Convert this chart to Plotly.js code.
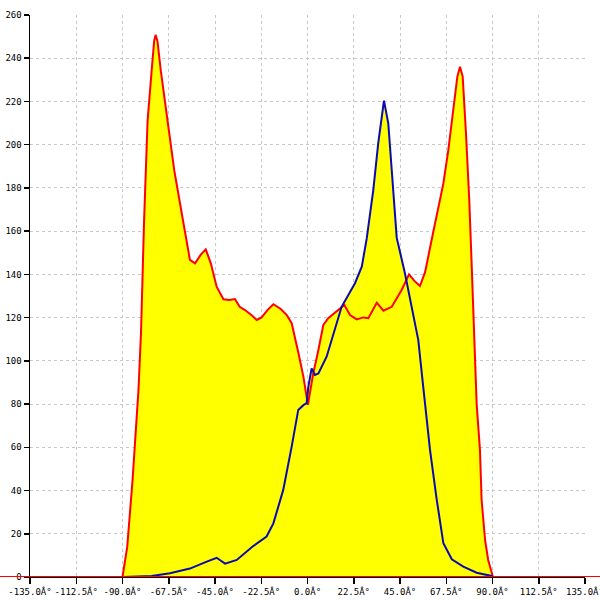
<!DOCTYPE html>
<html>
<head>
<meta charset="utf-8">
<script src="https://cdn.plot.ly/plotly-3.0.1.min.js"></script>
<style>html,body{margin:0;padding:0;background:#fff}#chart{width:600px;height:600px}</style>
</head>
<body>
<div id="chart"></div>
<script>
// Red series (angle, count)
const redX = [-135, -90, -87.7, -85.1, -82.2, -81, -79.5, -77.8, -75.8, -74.6, -73.9, -73, -71.4, -68.2, -64.8, -61.5, -57.2, -54.7, -52, -49.5, -47, -44.2, -40.9, -38, -35.3, -33, -30.4, -27, -24.7, -22.3, -19.5, -16.6, -13, -10.1, -7.7, -4.5, -2.0, 0.2, 2.8, 5.3, 7.7, 10.1, 14.2, 17.9, 20.7, 23.9, 27.1, 29.6, 33.7, 36.9, 41.0, 45.8, 49.4, 52, 54.7, 57.2, 60.4, 63.6, 66.1, 68.5, 70.9, 72.9, 74.2, 75.5, 77.1, 78.7, 79.9, 81.0, 82.3, 83.9, 84.7, 86.4, 87.9, 90.2, 135];
const redY = [0, 0, 13.9, 44.9, 87, 113, 165, 211, 234.5, 248, 250.8, 248, 234.5, 211, 188, 170, 146.7, 145.1, 149, 151.6, 145, 134.3, 128.5, 128.2, 128.6, 125, 123.5, 121, 118.9, 120.1, 123.5, 126.2, 124, 121.2, 117.4, 104, 92.7, 79.6, 94.2, 105, 116.6, 119.7, 122.7, 125.8, 121.2, 119.2, 120.1, 119.7, 126.9, 123.2, 125, 132.8, 140, 137, 134.6, 141, 156, 169.8, 182.1, 197.5, 216, 231.5, 236.1, 231.5, 205.3, 174.4, 143.6, 112.7, 80, 58.8, 35.6, 17.1, 7.9, 0, 0];
// Blue series
const blueX = [-90, -75.8, -66.9, -57.2, -49, -44.2, -40.1, -34.4, -26.4, -19.9, -16.6, -11.8, -7.7, -4.5, -2, -0.4, 0.4, 2.0, 3.6, 5.3, 9.3, 13.4, 16.6, 23.1, 26.4, 28.8, 32.0, 34.4, 37.2, 39.3, 41.0, 42.6, 43.4, 47.4, 50.7, 53.9, 56.3, 58.0, 59.6, 62.9, 66.1, 70.2, 75.8, 82.3, 89.6, 90];
const blueY = [0, 0.5, 1.7, 3.9, 7.1, 8.9, 6.2, 7.9, 14.3, 18.7, 24.8, 40.3, 60.3, 77.3, 79.5, 80.4, 88, 96.5, 93.5, 94.2, 101.9, 114.3, 125, 135.9, 143.6, 156.5, 179, 200.6, 220.4, 209.9, 186.8, 168.3, 157, 140.5, 125, 109.6, 88, 72.6, 58.8, 35.6, 15.6, 8.2, 4.8, 2.0, 0.5, 0];
// Tick labels
const xTickVals = [-135, -112.5, -90, -67.5, -45, -22.5, 0, 22.5, 45, 67.5, 90, 112.5, 135];
const xTickText = ["-135.0Â°", "-112.5Â°", "-90.0Â°", "-67.5Â°", "-45.0Â°", "-22.5Â°", "0.0Â°", "22.5Â°", "45.0Â°", "67.5Â°", "90.0Â°", "112.5Â°", "135.0Â°"];

const YELLOW = '#ffff00', RED = '#ff0000', BLUE = '#0a0ab4';
const traces = [
  {x: blueX, y: blueY, type: 'scatter', mode: 'lines', fill: 'tozeroy', fillcolor: YELLOW, line: {width: 0, color: YELLOW}, hoverinfo: 'skip'},
  {x: redX, y: redY, type: 'scatter', mode: 'lines', fill: 'tozeroy', fillcolor: YELLOW, line: {width: 0, color: YELLOW}, hoverinfo: 'skip'},
  {x: redX, y: redY, type: 'scatter', mode: 'lines', line: {width: 2, color: RED}},
  {x: blueX, y: blueY, type: 'scatter', mode: 'lines', line: {width: 2, color: BLUE}}
];
const font = {family: 'DejaVu Sans Mono, monospace', size: 9, color: '#000'};
const layout = {
  width: 600, height: 600,
  margin: {l: 30, r: 15, t: 15, b: 23, pad: 0},
  showlegend: false,
  paper_bgcolor: '#fff', plot_bgcolor: '#fff',
  font: font,
  xaxis: {
    range: [-135, 135], tickvals: xTickVals, ticktext: xTickText,
    showgrid: true, gridcolor: '#c8c8c8', griddash: '3px,3px', gridwidth: 1,
    zeroline: false, showline: true, linecolor: '#000', linewidth: 1,
    ticks: 'outside', ticklen: 6, tickcolor: '#000', tickwidth: 1.5,
    tickfont: font, fixedrange: true, automargin: false, ticklabeloverflow: 'allow'
  },
  yaxis: {
    range: [0, 260], dtick: 20, tick0: 0,
    showgrid: true, gridcolor: '#c8c8c8', griddash: '3px,3px', gridwidth: 1,
    zeroline: false, showline: true, linecolor: '#000', linewidth: 1.5,
    ticks: 'outside', ticklen: 5, tickcolor: '#000', tickwidth: 1.5,
    tickfont: font, fixedrange: true, automargin: false, ticklabeloverflow: 'allow'
  },
  shapes: [
    {type: 'line', xref: 'paper', yref: 'y', x0: -0.06, x1: 1.03, y0: 0, y1: 0, line: {color: RED, width: 2}, layer: 'above'}
  ]
};
Plotly.newPlot('chart', traces, layout, {displayModeBar: false, staticPlot: true});
</script>
</body>
</html>
